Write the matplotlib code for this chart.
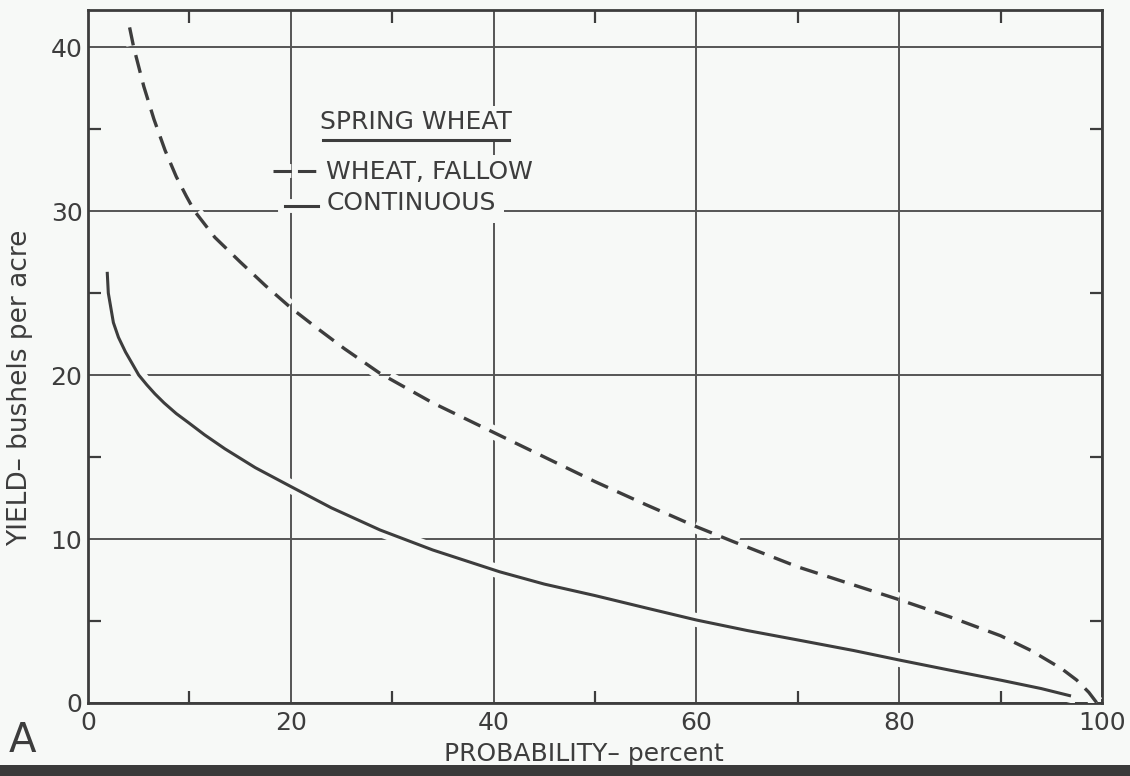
import matplotlib.pyplot as plt
import matplotlib.patheffects as pe
from matplotlib.ticker import MultipleLocator

# probability (%) vs yield (bushels/acre)
fallow_x = [4.1, 4.5, 5.5, 6.5, 7.6, 8.7, 9.7, 10.5, 12.5, 15, 17.5, 20, 22.5, 25.3, 28.8,
            34, 40, 45, 50, 55, 60, 63.6, 70, 75, 80, 85, 90, 93, 96, 97.5, 98.7, 99.5]
fallow_y = [41.2, 40.0, 37.6, 35.6, 33.7, 32.1, 30.9, 30.0, 28.4, 26.9, 25.45, 24.1, 22.9, 21.6, 20.1,
            18.3, 16.5, 15.0, 13.5, 12.1, 10.75, 9.85, 8.3, 7.3, 6.3, 5.25, 4.1, 3.2, 2.1, 1.4, 0.65, 0.0]

cont_x = [1.9, 2.0, 2.5, 3.0, 3.7, 4.4, 5.0, 5.8, 6.6, 7.5, 8.7, 9.9, 11.5, 13.5, 16.5, 20, 24, 28.8,
          34, 40.6, 45, 50, 55, 60, 65, 70.2, 75.5, 80, 85, 90.1, 94, 96.8]
cont_y = [26.2, 25.0, 23.2, 22.3, 21.4, 20.65, 20.0, 19.4, 18.85, 18.3, 17.65, 17.1, 16.35, 15.5, 14.35, 13.2, 11.9, 10.55,
          9.33, 8.0, 7.25, 6.55, 5.8, 5.06, 4.42, 3.82, 3.2, 2.62, 2.0, 1.38, 0.88, 0.45]

x_ticks = [0, 20, 40, 60, 80, 100]
y_ticks = [0, 10, 20, 30, 40]

bg = '#f7f9f7'
ink = '#3d3d3d'
plt.rcParams['font.family'] = ['DejaVu Sans']

fig = plt.figure(figsize=(11.3, 7.76), dpi=100, facecolor=bg)
ax = fig.add_axes([0.0779, 0.0941, 0.8973, 0.893])
ax.set_facecolor(bg)
ax.set_xlim(0, 100)
ax.set_ylim(0, 42.26)

# grid lines like the drafted original
ax.set_xticks(x_ticks)
ax.set_yticks(y_ticks)
ax.xaxis.set_minor_locator(MultipleLocator(10))
ax.yaxis.set_minor_locator(MultipleLocator(5))
ax.grid(True, which='major', color='#555555', linewidth=1.4)
ax.tick_params(which='major', length=0, labelsize=18, labelcolor=ink)
ax.tick_params(axis='x', which='major', pad=6)
ax.tick_params(axis='y', which='major', pad=4)
ax.tick_params(which='minor', direction='in', length=9, width=1.6, color=ink,
               top=True, right=True)
for s in ax.spines.values():
    s.set_color(ink)
    s.set_linewidth(2)

# curves, with a halo so grid lines break where they cross
halo = [pe.Stroke(linewidth=10, foreground=bg), pe.Normal()]
ax.plot(fallow_x, fallow_y, color=ink, linewidth=2.4, dashes=(5.5, 3), path_effects=halo, zorder=3)
ax.plot(cont_x, cont_y, color=ink, linewidth=2.2, path_effects=halo, zorder=3)

# hand-lettered key
box = dict(facecolor=bg, edgecolor='none', pad=3)
title = ax.text(22.9, 35.4, 'SPRING WHEAT', fontsize=18, color=ink, va='center', bbox=box, zorder=4)
ax.text(23.5, 32.4, 'WHEAT, FALLOW', fontsize=18, color=ink, va='center', bbox=box, zorder=4)
ax.text(23.5, 30.5, 'CONTINUOUS', fontsize=18, color=ink, va='center',
        bbox=dict(facecolor=bg, edgecolor='none', pad=6), zorder=4)
ax.plot([18.2, 22.7], [32.45, 32.45], color=ink, linewidth=2.2, dashes=(6, 2),
        path_effects=halo, zorder=4)
ax.plot([19.4, 22.7], [30.3, 30.3], color=ink, linewidth=2.2, path_effects=halo, zorder=4)

fig.canvas.draw()
bb = title.get_window_extent().transformed(ax.transData.inverted())
ax.plot([bb.x0 + 0.3, bb.x1 - 0.3], [bb.y0 - 0.35, bb.y0 - 0.35], color=ink, linewidth=2.2, zorder=5)

ax.set_xlabel('PROBABILITY– percent', fontsize=18, color=ink)
ax.set_ylabel('YIELD– bushels per acre', fontsize=19, color=ink)
ax.xaxis.set_label_coords(0.489, -0.056)
ax.yaxis.set_label_coords(-0.054, 0.455)

fig.text(0.008, 0.031, 'A', fontsize=29, color=ink, va='baseline')

# dark scan edge at the bottom
fig.patches.append(plt.Rectangle((0, 0), 1, 0.014, transform=fig.transFigure,
                                 facecolor='#3a3a3a', edgecolor='none'))

fig.savefig('out.png', dpi=100, facecolor=bg)
